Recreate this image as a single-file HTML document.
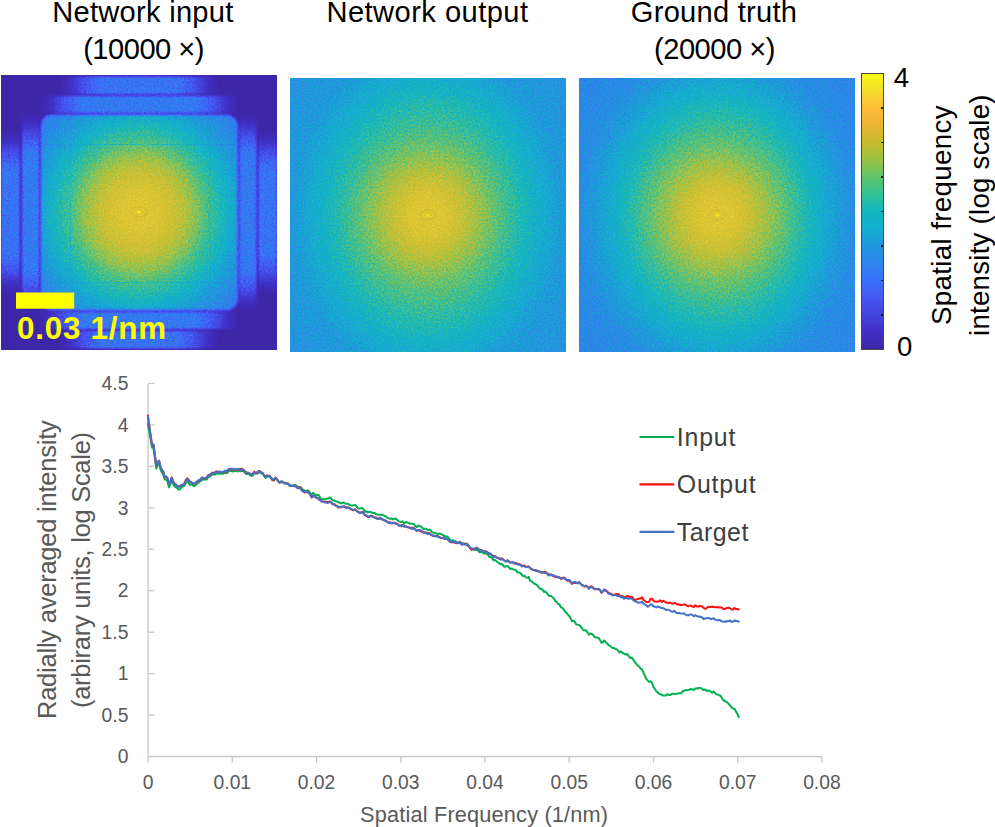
<!DOCTYPE html>
<html><head><meta charset="utf-8">
<style>
*{margin:0;padding:0;box-sizing:border-box}
html,body{width:995px;height:827px;overflow:hidden;background:#fff}
body{position:relative;font-family:"Liberation Sans",sans-serif}
.t{position:absolute;color:#000;font-size:29.1px;line-height:29.1px;white-space:nowrap;text-align:center;width:300px}
.img{position:absolute;overflow:hidden}
#im1{left:1px;top:74.5px;width:276px;height:275px}
#im2{left:290px;top:77.5px;width:275.5px;height:274px}
#im3{left:579px;top:77.5px;width:276px;height:274px}
#cb{position:absolute;left:861px;top:73px;width:22.5px;height:277px;border:1px solid #474747;
 background:linear-gradient(to top,#3e26a8 0%,#4130c4 6.25%,#4444e0 12.5%,#4458f2 18.75%,#3a70f8 25%,#2e84ec 31.25%,#2296dc 37.5%,#14aed0 43.75%,#10b8c0 50%,#36c196 56.25%,#5ec46a 62.5%,#98c244 68.75%,#c6bc2c 75%,#eab432 81.25%,#fcbc38 87.5%,#f2dc2a 93.75%,#f8f818 100%)}
.cbt{position:absolute;left:880.5px;width:2.5px;height:1.5px;background:#222}
.cbl{position:absolute;font-size:27.5px;line-height:27.5px;color:#000}
.rot{position:absolute;transform-origin:0 0;transform:rotate(-90deg);white-space:nowrap}
.yl{position:absolute;left:78.4px;width:50px;text-align:right;font-size:19.3px;line-height:19.3px;color:#595959}
.xl{position:absolute;width:80px;text-align:center;font-size:19.3px;line-height:19.3px;color:#595959}
#chart{position:absolute;left:0;top:0}
.nz{position:absolute;left:0;top:0;mix-blend-mode:overlay;opacity:0.22}
.leg{position:absolute;left:676.7px;font-size:24.9px;line-height:24.9px;color:#404040;white-space:nowrap}
</style></head><body>

<div class="t" style="left:-7.1px;top:-2.04px;letter-spacing:0.27px">Network input</div>
<div class="t" style="left:-6.4px;top:34.76px;letter-spacing:-0.5px">(10000 ×)</div>
<div class="t" style="left:277.5px;top:-2.04px;letter-spacing:0.45px">Network output</div>
<div class="t" style="left:564px;top:-2.04px;letter-spacing:0.25px">Ground truth</div>
<div class="t" style="left:564.5px;top:34.76px;letter-spacing:-0.5px">(20000 ×)</div>

<div class="img" id="im1">
<svg width="276" height="275" viewBox="0 0 276 275" style="position:absolute;left:0;top:0">
<defs>
<filter id="pm1" x="0" y="0" width="100%" height="100%" color-interpolation-filters="sRGB">
<feTurbulence type="fractalNoise" baseFrequency="0.55" numOctaves="2" seed="4" result="n0"/>
<feColorMatrix in="n0" type="matrix" values="1 0 0 0 0  1 0 0 0 0  1 0 0 0 0  0 0 0 0 1" result="n"/>
<feComponentTransfer in="SourceGraphic" result="mask"><feFuncR type="linear" slope="6" intercept="-0.15"/><feFuncG type="linear" slope="6" intercept="-0.15"/><feFuncB type="linear" slope="6" intercept="-0.15"/><feFuncA type="linear" slope="0" intercept="1"/></feComponentTransfer>
<feComposite in="mask" in2="n" operator="arithmetic" k1="0.26" k2="-0.13" k3="0" k4="0.5" result="p"/>
<feComposite in="SourceGraphic" in2="p" operator="arithmetic" k1="0" k2="1" k3="1" k4="-0.5" result="v"/>
<feComponentTransfer>
<feFuncR type="table" tableValues="0.2431 0.2549 0.2667 0.2667 0.2275 0.1804 0.1333 0.0863 0.0784 0.2196 0.3922 0.6118 0.7686 0.8471 0.8941 0.9412 0.9725"/>
<feFuncG type="table" tableValues="0.1490 0.1882 0.2667 0.3451 0.4392 0.5176 0.5882 0.6745 0.7137 0.7451 0.7608 0.7608 0.7529 0.7608 0.7843 0.8471 0.9725"/>
<feFuncB type="table" tableValues="0.6588 0.7686 0.8784 0.9490 0.9725 0.9255 0.8627 0.8157 0.7529 0.5961 0.4392 0.2902 0.2118 0.2039 0.1961 0.1647 0.0941"/>
<feFuncA type="linear" slope="0" intercept="1"/>
</feComponentTransfer>
<feGaussianBlur stdDeviation="0.5"/>
</filter>
<radialGradient id="g1" cx="138" cy="137" r="140" gradientUnits="userSpaceOnUse" gradientTransform="translate(138 137) scale(1 1.04) translate(-138 -137)">
<stop offset="0.0000" stop-color="#f7f7f7"/>
<stop offset="0.0179" stop-color="#dbdbdb"/>
<stop offset="0.1071" stop-color="#d6d6d6"/>
<stop offset="0.2357" stop-color="#c9c9c9"/>
<stop offset="0.3500" stop-color="#b5b5b5"/>
<stop offset="0.4286" stop-color="#a4a4a4"/>
<stop offset="0.4857" stop-color="#959595"/>
<stop offset="0.5857" stop-color="#828282"/>
<stop offset="0.7000" stop-color="#6a6a6a"/>
<stop offset="0.8214" stop-color="#585858"/>
<stop offset="1.0000" stop-color="#404040"/>
</radialGradient>
<linearGradient id="bho" x1="0" y1="0" x2="276" y2="0" gradientUnits="userSpaceOnUse">
<stop offset="0.210" stop-color="#424242" stop-opacity="0"/>
<stop offset="0.256" stop-color="#424242" stop-opacity="0.25"/>
<stop offset="0.301" stop-color="#424242" stop-opacity="0.65"/>
<stop offset="0.362" stop-color="#424242" stop-opacity="1"/>
<stop offset="0.638" stop-color="#424242" stop-opacity="1"/>
<stop offset="0.699" stop-color="#424242" stop-opacity="0.65"/>
<stop offset="0.744" stop-color="#424242" stop-opacity="0.25"/>
<stop offset="0.790" stop-color="#424242" stop-opacity="0"/>
</linearGradient>
<linearGradient id="bhi" x1="0" y1="0" x2="276" y2="0" gradientUnits="userSpaceOnUse">
<stop offset="0.138" stop-color="#474747" stop-opacity="0"/>
<stop offset="0.186" stop-color="#474747" stop-opacity="0.25"/>
<stop offset="0.233" stop-color="#474747" stop-opacity="0.65"/>
<stop offset="0.297" stop-color="#474747" stop-opacity="1"/>
<stop offset="0.703" stop-color="#474747" stop-opacity="1"/>
<stop offset="0.767" stop-color="#474747" stop-opacity="0.65"/>
<stop offset="0.814" stop-color="#474747" stop-opacity="0.25"/>
<stop offset="0.862" stop-color="#474747" stop-opacity="0"/>
</linearGradient>
<linearGradient id="bvo" x1="0" y1="0" x2="0" y2="275" gradientUnits="userSpaceOnUse">
<stop offset="0.200" stop-color="#424242" stop-opacity="0"/>
<stop offset="0.244" stop-color="#424242" stop-opacity="0.25"/>
<stop offset="0.287" stop-color="#424242" stop-opacity="0.65"/>
<stop offset="0.345" stop-color="#424242" stop-opacity="1"/>
<stop offset="0.655" stop-color="#424242" stop-opacity="1"/>
<stop offset="0.713" stop-color="#424242" stop-opacity="0.65"/>
<stop offset="0.756" stop-color="#424242" stop-opacity="0.25"/>
<stop offset="0.800" stop-color="#424242" stop-opacity="0"/>
</linearGradient>
<linearGradient id="bvi" x1="0" y1="0" x2="0" y2="275" gradientUnits="userSpaceOnUse">
<stop offset="0.138" stop-color="#474747" stop-opacity="0"/>
<stop offset="0.184" stop-color="#474747" stop-opacity="0.25"/>
<stop offset="0.230" stop-color="#474747" stop-opacity="0.65"/>
<stop offset="0.291" stop-color="#474747" stop-opacity="1"/>
<stop offset="0.709" stop-color="#474747" stop-opacity="1"/>
<stop offset="0.770" stop-color="#474747" stop-opacity="0.65"/>
<stop offset="0.816" stop-color="#474747" stop-opacity="0.25"/>
<stop offset="0.862" stop-color="#474747" stop-opacity="0"/>
</linearGradient>
<filter id="bl" x="-10%" y="-10%" width="120%" height="120%"><feGaussianBlur stdDeviation="1.1"/></filter>
<filter id="bl2" x="-10%" y="-10%" width="120%" height="120%"><feGaussianBlur stdDeviation="1.4"/></filter>
</defs>
<g filter="url(#pm1)">
<rect width="276" height="275" fill="#000"/>
<g filter="url(#bl)">
<rect x="0" y="1.5" width="276" height="17.5" fill="url(#bho)"/>
<rect x="0" y="20.8" width="276" height="17" fill="url(#bhi)"/>
<rect x="0" y="237" width="276" height="17" fill="url(#bhi)"/>
<rect x="0" y="256" width="276" height="17.5" fill="url(#bho)"/>
<rect x="0" y="0" width="18.8" height="275" fill="url(#bvo)"/>
<rect x="21" y="0" width="17" height="275" fill="url(#bvi)"/>
<rect x="238.5" y="0" width="17" height="275" fill="url(#bvi)"/>
<rect x="257.5" y="0" width="18.5" height="275" fill="url(#bvo)"/>
</g>
<rect x="39.8" y="39.8" width="197" height="195.5" rx="11" fill="url(#g1)" filter="url(#bl2)"/>
<g stroke="#000" stroke-width="0.9" opacity="0.11">
<line x1="69.5" y1="40" x2="69.5" y2="235"/>
<line x1="208.5" y1="40" x2="208.5" y2="235"/>
<line x1="40" y1="69.5" x2="236" y2="69.5"/>
<line x1="40" y1="207.5" x2="236" y2="207.5"/>
</g>
<ellipse cx="138" cy="137" rx="8" ry="5" fill="none" stroke="#000" stroke-width="2" opacity="0.07"/>
<circle cx="138" cy="137" r="1.3" fill="#f8f8f8"/>
</g>
<rect x="15" y="217.5" width="58.2" height="16.2" fill="#ffff00"/>
</svg>
<div style="position:absolute;left:16px;top:238.7px;font-size:31.4px;line-height:31.4px;letter-spacing:0.75px;font-weight:bold;color:#ffff00;white-space:nowrap">0.03 1/nm</div>
</div>

<div class="img" id="im2"><svg width="276" height="274" viewBox="0 0 276 274" style="position:absolute;left:0;top:0">
<defs>
<filter id="pm2" x="0" y="0" width="100%" height="100%" color-interpolation-filters="sRGB">
<feTurbulence type="fractalNoise" baseFrequency="0.55" numOctaves="2" seed="5" result="n0"/>
<feColorMatrix in="n0" type="matrix" values="1 0 0 0 0  1 0 0 0 0  1 0 0 0 0  0 0 0 0 1" result="n"/>
<feComposite in="SourceGraphic" in2="n" operator="arithmetic" k1="0" k2="1" k3="0.26" k4="-0.13" result="v"/>
<feComponentTransfer>
<feFuncR type="table" tableValues="0.2431 0.2549 0.2667 0.2667 0.2275 0.1804 0.1333 0.0863 0.0784 0.2196 0.3922 0.6118 0.7686 0.8471 0.8941 0.9412 0.9725"/>
<feFuncG type="table" tableValues="0.1490 0.1882 0.2667 0.3451 0.4392 0.5176 0.5882 0.6745 0.7137 0.7451 0.7608 0.7608 0.7529 0.7608 0.7843 0.8471 0.9725"/>
<feFuncB type="table" tableValues="0.6588 0.7686 0.8784 0.9490 0.9725 0.9255 0.8627 0.8157 0.7529 0.5961 0.4392 0.2902 0.2118 0.2039 0.1961 0.1647 0.0941"/>
<feFuncA type="linear" slope="0" intercept="1"/>
</feComponentTransfer>
<feGaussianBlur stdDeviation="0.5"/>
</filter>
<radialGradient id="gr2" cx="138" cy="137" r="200" gradientUnits="userSpaceOnUse" gradientTransform="translate(138 137) scale(1 1.05) translate(-138 -137)">
<stop offset="0.0000" stop-color="#f7f7f7"/>
<stop offset="0.0125" stop-color="#dbdbdb"/>
<stop offset="0.0750" stop-color="#d6d6d6"/>
<stop offset="0.1500" stop-color="#c8c8c8"/>
<stop offset="0.2250" stop-color="#b6b6b6"/>
<stop offset="0.3000" stop-color="#a6a6a6"/>
<stop offset="0.3900" stop-color="#939393"/>
<stop offset="0.4750" stop-color="#828282"/>
<stop offset="0.5500" stop-color="#757575"/>
<stop offset="0.6250" stop-color="#6a6a6a"/>
<stop offset="0.6900" stop-color="#626262"/>
<stop offset="0.8750" stop-color="#5d5d5d"/>
<stop offset="1.0000" stop-color="#575757"/>
</radialGradient>
<radialGradient id="gq2" cx="138" cy="137" r="200" gradientUnits="userSpaceOnUse" gradientTransform="translate(138 137) scale(1 1.22) translate(-138 -137)">
<stop offset="0.0000" stop-color="#f7f7f7"/>
<stop offset="0.0125" stop-color="#dbdbdb"/>
<stop offset="0.0750" stop-color="#d6d6d6"/>
<stop offset="0.1500" stop-color="#c8c8c8"/>
<stop offset="0.2250" stop-color="#b6b6b6"/>
<stop offset="0.3000" stop-color="#a6a6a6"/>
<stop offset="0.3900" stop-color="#939393"/>
<stop offset="0.4750" stop-color="#828282"/>
<stop offset="0.5500" stop-color="#757575"/>
<stop offset="0.6250" stop-color="#6a6a6a"/>
<stop offset="0.6900" stop-color="#626262"/>
<stop offset="0.8750" stop-color="#5d5d5d"/>
<stop offset="1.0000" stop-color="#575757"/>
</radialGradient>
<radialGradient id="mg2" cx="138" cy="137" r="140" gradientUnits="userSpaceOnUse"><stop offset="0.45" stop-color="#000"/><stop offset="0.8" stop-color="#fff"/></radialGradient>
<mask id="mk2" maskUnits="userSpaceOnUse" x="0" y="0" width="276" height="274"><rect width="276" height="274" fill="url(#mg2)"/></mask></defs>
<g filter="url(#pm2)"><rect width="276" height="274" fill="url(#gr2)"/><rect width="276" height="274" fill="url(#gq2)" mask="url(#mk2)"/><ellipse cx="138" cy="137" rx="8" ry="5" fill="none" stroke="#000" stroke-width="2" opacity="0.07"/><circle cx="138" cy="137" r="1.3" fill="#f8f8f8"/></g>
</svg></div>
<div class="img" id="im3"><svg width="276" height="274" viewBox="0 0 276 274" style="position:absolute;left:0;top:0">
<defs>
<filter id="pm3" x="0" y="0" width="100%" height="100%" color-interpolation-filters="sRGB">
<feTurbulence type="fractalNoise" baseFrequency="0.55" numOctaves="2" seed="9" result="n0"/>
<feColorMatrix in="n0" type="matrix" values="1 0 0 0 0  1 0 0 0 0  1 0 0 0 0  0 0 0 0 1" result="n"/>
<feComposite in="SourceGraphic" in2="n" operator="arithmetic" k1="0" k2="1" k3="0.26" k4="-0.13" result="v"/>
<feComponentTransfer>
<feFuncR type="table" tableValues="0.2431 0.2549 0.2667 0.2667 0.2275 0.1804 0.1333 0.0863 0.0784 0.2196 0.3922 0.6118 0.7686 0.8471 0.8941 0.9412 0.9725"/>
<feFuncG type="table" tableValues="0.1490 0.1882 0.2667 0.3451 0.4392 0.5176 0.5882 0.6745 0.7137 0.7451 0.7608 0.7608 0.7529 0.7608 0.7843 0.8471 0.9725"/>
<feFuncB type="table" tableValues="0.6588 0.7686 0.8784 0.9490 0.9725 0.9255 0.8627 0.8157 0.7529 0.5961 0.4392 0.2902 0.2118 0.2039 0.1961 0.1647 0.0941"/>
<feFuncA type="linear" slope="0" intercept="1"/>
</feComponentTransfer>
<feGaussianBlur stdDeviation="0.5"/>
</filter>
<radialGradient id="gr3" cx="138" cy="137" r="200" gradientUnits="userSpaceOnUse" gradientTransform="translate(138 137) scale(1 1.05) translate(-138 -137)">
<stop offset="0.0000" stop-color="#f7f7f7"/>
<stop offset="0.0125" stop-color="#dbdbdb"/>
<stop offset="0.0750" stop-color="#d6d6d6"/>
<stop offset="0.1500" stop-color="#c8c8c8"/>
<stop offset="0.2250" stop-color="#b6b6b6"/>
<stop offset="0.3000" stop-color="#a6a6a6"/>
<stop offset="0.3900" stop-color="#919191"/>
<stop offset="0.4750" stop-color="#7d7d7d"/>
<stop offset="0.5500" stop-color="#6e6e6e"/>
<stop offset="0.6250" stop-color="#616161"/>
<stop offset="0.6900" stop-color="#585858"/>
<stop offset="0.8750" stop-color="#525252"/>
<stop offset="1.0000" stop-color="#4c4c4c"/>
</radialGradient>
<radialGradient id="gq3" cx="138" cy="137" r="200" gradientUnits="userSpaceOnUse" gradientTransform="translate(138 137) scale(1 1.2) translate(-138 -137)">
<stop offset="0.0000" stop-color="#f7f7f7"/>
<stop offset="0.0125" stop-color="#dbdbdb"/>
<stop offset="0.0750" stop-color="#d6d6d6"/>
<stop offset="0.1500" stop-color="#c8c8c8"/>
<stop offset="0.2250" stop-color="#b6b6b6"/>
<stop offset="0.3000" stop-color="#a6a6a6"/>
<stop offset="0.3900" stop-color="#919191"/>
<stop offset="0.4750" stop-color="#7d7d7d"/>
<stop offset="0.5500" stop-color="#6e6e6e"/>
<stop offset="0.6250" stop-color="#616161"/>
<stop offset="0.6900" stop-color="#585858"/>
<stop offset="0.8750" stop-color="#525252"/>
<stop offset="1.0000" stop-color="#4c4c4c"/>
</radialGradient>
<radialGradient id="mg3" cx="138" cy="137" r="140" gradientUnits="userSpaceOnUse"><stop offset="0.45" stop-color="#000"/><stop offset="0.8" stop-color="#fff"/></radialGradient>
<mask id="mk3" maskUnits="userSpaceOnUse" x="0" y="0" width="276" height="274"><rect width="276" height="274" fill="url(#mg3)"/></mask></defs>
<g filter="url(#pm3)"><rect width="276" height="274" fill="url(#gr3)"/><rect width="276" height="274" fill="url(#gq3)" mask="url(#mk3)"/><ellipse cx="138" cy="137" rx="8" ry="5" fill="none" stroke="#000" stroke-width="2" opacity="0.07"/><circle cx="138" cy="137" r="1.3" fill="#f8f8f8"/></g>
</svg></div>

<div id="cb"></div>
<div class="cbt" style="top:107.25px"></div>
<div class="cbt" style="top:141.75px"></div>
<div class="cbt" style="top:176.25px"></div>
<div class="cbt" style="top:210.75px"></div>
<div class="cbt" style="top:245.25px"></div>
<div class="cbt" style="top:279.75px"></div>
<div class="cbt" style="top:314.25px"></div>
<div class="cbl" style="left:893.7px;top:63.8px">4</div>
<div class="cbl" style="left:896.9px;top:332.5px">0</div>
<div class="rot" style="left:928.25px;top:324.6px;font-size:27.7px;line-height:27.7px;color:#000;letter-spacing:0.35px">Spatial frequency</div>
<div class="rot" style="left:965.75px;top:335.5px;font-size:27.7px;line-height:27.7px;color:#000;letter-spacing:0.23px">intensity (log scale)</div>

<svg id="chart" width="995" height="827" viewBox="0 0 995 827">
<g stroke="#c6c6c6" stroke-width="1.3" fill="none">
<line x1="148.1" y1="383.5" x2="148.1" y2="762.8" />
<line x1="148.1" y1="756.5" x2="821.9" y2="756.5" />
<line x1="148.1" y1="715.06" x2="154.30" y2="715.06" />
<line x1="148.1" y1="673.61" x2="154.30" y2="673.61" />
<line x1="148.1" y1="632.17" x2="154.30" y2="632.17" />
<line x1="148.1" y1="590.72" x2="154.30" y2="590.72" />
<line x1="148.1" y1="549.28" x2="154.30" y2="549.28" />
<line x1="148.1" y1="507.83" x2="154.30" y2="507.83" />
<line x1="148.1" y1="466.39" x2="154.30" y2="466.39" />
<line x1="148.1" y1="424.94" x2="154.30" y2="424.94" />
<line x1="148.1" y1="383.50" x2="154.30" y2="383.50" />
<line x1="232.32" y1="756.5" x2="232.32" y2="762.8" />
<line x1="316.55" y1="756.5" x2="316.55" y2="762.8" />
<line x1="400.77" y1="756.5" x2="400.77" y2="762.8" />
<line x1="485.00" y1="756.5" x2="485.00" y2="762.8" />
<line x1="569.22" y1="756.5" x2="569.22" y2="762.8" />
<line x1="653.45" y1="756.5" x2="653.45" y2="762.8" />
<line x1="737.68" y1="756.5" x2="737.68" y2="762.8" />
<line x1="821.90" y1="756.5" x2="821.90" y2="762.8" />
</g>
<g fill="none" stroke-width="2" stroke-linejoin="round" stroke-linecap="round">
<path d="M147.9 424.0L149.3 432.1L150.7 439.9L152.1 447.7L153.5 447.6L154.9 458.0L156.3 468.6L157.7 464.6L159.1 463.2L160.5 469.4L161.9 472.5L163.3 474.7L164.7 479.6L166.1 479.4L167.5 481.2L168.9 487.4L170.3 484.4L171.7 480.4L173.1 483.6L174.5 486.7L175.9 487.3L177.3 488.3L178.7 489.7L180.1 489.1L181.5 487.0L182.9 486.6L184.3 485.6L185.7 483.2L187.1 481.5L188.5 482.6L189.9 484.9L191.3 484.1L192.7 485.1L194.1 486.3L195.5 485.1L196.9 483.8L198.3 482.9L199.7 481.8L201.1 480.6L202.5 479.7L203.9 479.4L205.3 479.6L206.7 479.4L208.1 477.1L209.5 476.7L210.9 475.6L212.3 474.4L213.7 474.6L215.1 474.5L216.5 473.3L217.9 473.8L219.3 473.5L220.7 473.8L222.1 473.4L223.5 473.7L224.9 472.0L226.3 473.3L227.7 472.4L229.1 470.3L230.5 471.0L231.9 471.1L233.3 471.6L234.7 470.7L236.1 470.9L237.5 471.6L238.9 470.7L240.3 471.2L241.7 471.1L243.1 470.9L244.5 472.1L245.9 474.0L247.3 474.0L248.7 474.0L250.1 475.4L251.5 475.9L252.9 475.5L254.3 473.0L255.7 473.3L257.1 473.7L258.5 472.5L259.9 472.4L261.3 473.4L262.7 473.2L264.1 475.6L265.5 478.0L266.9 476.5L268.3 476.3L269.7 476.7L271.1 478.4L272.5 480.3L273.9 480.5L275.3 478.3L276.7 479.1L278.1 481.2L279.5 483.0L280.9 481.4L282.3 481.8L283.7 482.8L285.1 482.8L286.5 483.6L287.9 483.6L289.3 485.3L290.7 485.5L292.1 485.6L293.5 485.6L294.9 484.9L296.3 485.6L297.7 486.8L299.1 487.2L300.5 487.2L301.9 488.7L303.3 489.9L304.7 490.9L306.1 491.0L307.5 490.3L308.9 491.1L310.3 493.4L311.7 494.9L313.1 492.9L314.5 494.1L315.9 495.7L317.3 494.7L318.7 495.2L320.1 497.6L321.5 499.5L322.9 499.1L324.3 499.1L325.7 499.6L327.1 498.4L328.5 498.2L329.9 497.5L331.3 498.6L332.7 500.1L334.1 500.5L335.5 501.2L336.9 501.4L338.3 502.2L339.7 502.6L341.1 503.5L342.5 502.8L343.9 502.6L345.3 503.8L346.7 503.7L348.1 503.8L349.5 504.9L350.9 505.3L352.3 505.6L353.7 505.2L355.1 504.9L356.5 506.1L357.9 508.2L359.3 508.6L360.7 508.3L362.1 508.1L363.5 509.1L364.9 512.0L366.3 511.2L367.7 512.4L369.1 511.8L370.5 511.9L371.9 512.7L373.3 512.9L374.7 513.1L376.1 514.1L377.5 514.7L378.9 514.7L380.3 514.7L381.7 514.8L383.1 515.1L384.5 516.0L385.9 516.5L387.3 517.6L388.7 518.4L390.1 518.8L391.5 518.6L392.9 519.5L394.3 518.7L395.7 518.6L397.1 519.8L398.5 521.2L399.9 521.6L401.3 522.0L402.7 521.4L404.1 523.6L405.5 522.4L406.9 522.1L408.3 523.0L409.7 523.7L411.1 523.4L412.5 523.9L413.9 524.1L415.3 526.1L416.7 527.3L418.1 525.4L419.5 526.0L420.9 526.4L422.3 527.9L423.7 529.0L425.1 528.6L426.5 529.0L427.9 530.2L429.3 529.6L430.7 529.9L432.1 532.2L433.5 532.6L434.9 533.1L436.3 533.2L437.7 534.3L439.1 533.6L440.5 533.8L441.9 534.7L443.3 535.0L444.7 536.7L446.1 536.2L447.5 536.6L448.9 538.3L450.3 540.6L451.7 540.6L453.1 540.3L454.5 541.4L455.9 541.6L457.3 542.6L458.7 542.5L460.1 542.2L461.5 543.2L462.9 543.4L464.3 543.4L465.7 544.0L467.1 543.6L468.5 545.2L469.9 547.8L471.3 549.2L472.7 549.3L474.1 549.6L475.5 549.9L476.9 549.7L478.3 550.9L479.7 552.4L481.1 551.8L482.5 552.5L483.9 553.5L485.3 553.2L486.7 553.9L488.1 554.9L489.5 557.1L490.9 557.1L492.3 558.5L493.7 560.3L495.1 559.9L496.5 561.2L497.9 562.3L499.3 563.4L500.7 564.2L502.1 564.0L503.5 566.1L504.9 566.9L506.3 566.2L507.7 566.0L509.1 567.7L510.5 568.9L511.9 568.6L513.3 569.4L514.7 569.9L516.1 570.4L517.5 572.4L518.9 572.4L520.3 572.9L521.7 574.7L523.1 575.9L524.5 575.7L525.9 577.4L527.3 577.8L528.7 576.9L530.1 580.8L531.5 581.4L532.9 582.5L534.3 583.7L535.7 584.4L537.1 585.2L538.5 587.0L539.9 588.7L541.3 588.8L542.7 590.1L544.1 591.9L545.5 591.6L546.9 593.1L548.3 595.3L549.7 596.0L551.1 595.9L552.5 597.4L553.9 598.5L555.3 601.2L556.7 602.0L558.1 603.8L559.5 604.5L560.9 607.3L562.3 607.9L563.7 609.3L565.1 611.8L566.5 613.0L567.9 614.6L569.3 616.0L570.7 618.5L572.1 621.2L573.5 620.8L574.9 622.1L576.3 624.4L577.7 624.8L579.1 624.9L580.5 626.3L581.9 628.0L583.3 630.0L584.7 630.6L586.1 630.3L587.5 632.3L588.9 634.7L590.3 633.5L591.7 633.9L593.1 634.9L594.5 636.8L595.9 637.6L597.3 637.6L598.7 638.0L600.1 640.2L601.5 642.8L602.9 642.2L604.3 640.5L605.7 642.2L607.1 643.3L608.5 645.2L609.9 645.8L611.3 647.0L612.7 648.0L614.1 648.0L615.5 649.0L616.9 649.4L618.3 650.8L619.7 652.5L621.1 651.5L622.5 652.9L623.9 653.7L625.3 654.5L626.7 654.1L628.1 655.1L629.5 657.1L630.9 658.1L632.3 658.1L633.7 660.6L635.1 662.4L636.5 664.1L637.9 665.8L639.3 666.8L640.7 668.9L642.1 669.3L643.5 672.7L644.9 675.6L646.3 678.8L647.7 680.4L649.1 681.9L650.5 681.3L651.9 682.8L653.3 686.7L654.7 688.8L656.1 691.1L657.5 692.2L658.9 693.7L660.3 694.3L661.7 694.7L663.1 695.6L664.5 695.5L665.9 695.6L667.3 694.1L668.7 694.9L670.1 695.1L671.5 694.0L672.9 693.8L674.3 693.8L675.7 694.0L677.1 693.8L678.5 693.3L679.9 693.2L681.3 693.2L682.7 691.2L684.1 690.8L685.5 690.1L686.9 690.3L688.3 690.1L689.7 689.4L691.1 689.0L692.5 689.4L693.9 690.1L695.3 688.4L696.7 688.4L698.1 688.1L699.5 688.3L700.9 687.9L702.3 689.3L703.7 690.0L705.1 689.4L706.5 690.8L707.9 690.5L709.3 690.7L710.7 691.5L712.1 692.7L713.5 691.4L714.9 693.1L716.3 694.3L717.7 694.6L719.1 695.2L720.5 695.7L721.9 698.0L723.3 700.3L724.7 700.8L726.1 701.9L727.5 702.5L728.9 704.3L730.3 705.8L731.7 707.3L733.1 708.7L734.5 708.7L735.9 711.3L737.3 713.7L738.7 717.0" stroke="#00b050"/>
<path d="M147.9 415.5L149.3 426.1L150.7 436.1L152.1 444.9L153.5 445.2L154.9 455.5L156.3 466.0L157.7 462.2L159.1 460.9L160.5 466.8L161.9 470.1L163.3 471.6L164.7 477.4L166.1 476.5L167.5 478.5L168.9 484.0L170.3 481.6L171.7 477.5L173.1 481.0L174.5 483.5L175.9 484.8L177.3 485.8L178.7 486.7L180.1 486.2L181.5 484.9L182.9 484.9L184.3 483.8L185.7 480.3L187.1 478.4L188.5 479.6L189.9 482.1L191.3 482.2L192.7 483.2L194.1 483.6L195.5 482.8L196.9 481.6L198.3 481.0L199.7 480.8L201.1 478.4L202.5 477.8L203.9 478.2L205.3 478.8L206.7 477.5L208.1 475.5L209.5 475.0L210.9 474.3L212.3 472.6L213.7 473.5L215.1 471.9L216.5 471.6L217.9 472.2L219.3 471.6L220.7 471.9L222.1 472.3L223.5 471.9L224.9 471.2L226.3 472.3L227.7 470.9L229.1 468.9L230.5 469.1L231.9 469.4L233.3 469.7L234.7 469.3L236.1 469.6L237.5 470.1L238.9 468.9L240.3 469.1L241.7 468.6L243.1 470.6L244.5 470.7L245.9 472.8L247.3 472.8L248.7 472.7L250.1 474.1L251.5 474.5L252.9 473.6L254.3 471.6L255.7 473.3L257.1 472.8L258.5 471.8L259.9 471.0L261.3 472.2L262.7 473.2L264.1 475.3L265.5 476.8L266.9 475.6L268.3 475.6L269.7 476.2L271.1 478.1L272.5 479.3L273.9 480.2L275.3 477.6L276.7 478.8L278.1 480.8L279.5 482.4L280.9 482.2L282.3 481.7L283.7 482.6L285.1 483.1L286.5 483.3L287.9 483.4L289.3 485.1L290.7 485.9L292.1 486.1L293.5 486.0L294.9 486.3L296.3 486.8L297.7 488.1L299.1 488.3L300.5 487.3L301.9 490.3L303.3 490.8L304.7 492.5L306.1 491.5L307.5 492.3L308.9 492.7L310.3 495.1L311.7 497.5L313.1 496.1L314.5 496.4L315.9 497.5L317.3 498.0L318.7 498.9L320.1 500.2L321.5 501.2L322.9 501.6L324.3 501.7L325.7 502.2L327.1 501.8L328.5 502.2L329.9 501.5L331.3 502.6L332.7 504.5L334.1 504.0L335.5 505.4L336.9 505.8L338.3 507.5L339.7 507.1L341.1 507.5L342.5 506.6L343.9 506.4L345.3 507.1L346.7 507.3L348.1 507.7L349.5 507.8L350.9 509.5L352.3 509.6L353.7 510.3L355.1 509.2L356.5 511.0L357.9 511.4L359.3 512.9L360.7 512.5L362.1 512.2L363.5 513.1L364.9 515.0L366.3 515.7L367.7 516.8L369.1 517.1L370.5 515.7L371.9 515.9L373.3 516.9L374.7 517.7L376.1 517.5L377.5 518.7L378.9 518.4L380.3 518.1L381.7 519.3L383.1 519.8L384.5 520.3L385.9 520.4L387.3 521.9L388.7 522.6L390.1 522.3L391.5 523.2L392.9 523.2L394.3 522.4L395.7 523.6L397.1 523.6L398.5 525.2L399.9 525.6L401.3 525.2L402.7 525.1L404.1 526.5L405.5 526.2L406.9 527.1L408.3 527.5L409.7 527.6L411.1 528.6L412.5 527.6L413.9 528.4L415.3 529.5L416.7 530.8L418.1 530.4L419.5 530.4L420.9 531.5L422.3 531.3L423.7 532.3L425.1 532.7L426.5 532.5L427.9 533.8L429.3 532.9L430.7 534.7L432.1 535.2L433.5 536.2L434.9 536.1L436.3 536.1L437.7 536.1L439.1 536.9L440.5 537.8L441.9 537.9L443.3 537.9L444.7 538.8L446.1 539.1L447.5 539.1L448.9 540.7L450.3 541.7L451.7 542.5L453.1 542.2L454.5 542.0L455.9 543.3L457.3 543.3L458.7 543.0L460.1 542.0L461.5 544.2L462.9 544.4L464.3 544.2L465.7 543.8L467.1 545.2L468.5 545.7L469.9 547.6L471.3 549.8L472.7 549.3L474.1 549.3L475.5 548.3L476.9 548.2L478.3 548.6L479.7 550.3L481.1 550.1L482.5 550.8L483.9 551.3L485.3 551.6L486.7 551.6L488.1 552.8L489.5 553.9L490.9 554.1L492.3 555.5L493.7 556.2L495.1 556.2L496.5 557.5L497.9 558.0L499.3 558.7L500.7 558.5L502.1 558.6L503.5 559.7L504.9 560.8L506.3 561.6L507.7 560.8L509.1 561.4L510.5 562.4L511.9 562.5L513.3 562.1L514.7 563.8L516.1 562.7L517.5 564.0L518.9 564.0L520.3 564.4L521.7 565.7L523.1 565.7L524.5 565.6L525.9 566.8L527.3 566.8L528.7 566.5L530.1 568.1L531.5 569.2L532.9 569.6L534.3 570.1L535.7 570.0L537.1 571.2L538.5 571.3L539.9 571.6L541.3 572.4L542.7 572.7L544.1 571.8L545.5 572.0L546.9 573.0L548.3 574.2L549.7 574.6L551.1 574.6L552.5 575.7L553.9 575.9L555.3 577.3L556.7 576.5L558.1 577.5L559.5 577.2L560.9 578.9L562.3 578.0L563.7 577.4L565.1 578.8L566.5 580.1L567.9 580.8L569.3 580.5L570.7 582.3L572.1 583.6L573.5 582.8L574.9 583.0L576.3 582.8L577.7 583.1L579.1 582.2L580.5 583.8L581.9 584.9L583.3 585.5L584.7 586.6L586.1 586.1L587.5 586.8L588.9 588.1L590.3 586.7L591.7 586.3L593.1 588.0L594.5 589.3L595.9 588.7L597.3 589.3L598.7 589.2L600.1 590.3L601.5 592.8L602.9 591.5L604.3 590.1L605.7 590.1L607.1 591.4L608.5 593.0L609.9 593.3L611.3 593.9L612.7 594.6L614.1 595.1L615.5 594.2L616.9 593.9L618.3 594.0L619.7 595.7L621.1 595.9L622.5 595.9L623.9 597.5L625.3 597.0L626.7 596.2L628.1 596.1L629.5 597.2L630.9 596.8L632.3 597.0L633.7 599.2L635.1 600.1L636.5 599.4L637.9 599.0L639.3 598.5L640.7 598.5L642.1 597.1L643.5 600.0L644.9 600.9L646.3 602.1L647.7 602.1L649.1 601.8L650.5 598.8L651.9 598.7L653.3 600.2L654.7 601.6L656.1 601.8L657.5 601.4L658.9 601.6L660.3 600.3L661.7 601.9L663.1 600.7L664.5 601.5L665.9 602.5L667.3 602.8L668.7 603.1L670.1 602.5L671.5 603.4L672.9 603.4L674.3 603.2L675.7 603.1L677.1 604.6L678.5 604.1L679.9 604.9L681.3 604.9L682.7 604.8L684.1 604.4L685.5 604.8L686.9 605.7L688.3 606.3L689.7 605.4L691.1 605.8L692.5 606.5L693.9 607.1L695.3 605.2L696.7 606.4L698.1 606.5L699.5 606.0L700.9 605.9L702.3 606.6L703.7 607.9L705.1 608.8L706.5 608.4L707.9 606.8L709.3 607.1L710.7 607.1L712.1 606.5L713.5 607.1L714.9 607.2L716.3 607.2L717.7 607.0L719.1 607.6L720.5 607.6L721.9 607.6L723.3 608.9L724.7 609.1L726.1 608.3L727.5 607.9L728.9 607.7L730.3 608.5L731.7 609.4L733.1 609.5L734.5 607.9L735.9 609.1L737.3 609.0L738.7 609.5" stroke="#ff1010"/>
<path d="M147.9 416.9L149.3 425.9L150.7 436.4L152.1 445.5L153.5 444.4L154.9 455.1L156.3 465.4L157.7 461.9L159.1 460.5L160.5 468.2L161.9 469.8L163.3 471.6L164.7 477.4L166.1 476.5L167.5 478.0L168.9 483.9L170.3 481.6L171.7 477.6L173.1 481.3L174.5 483.7L175.9 484.5L177.3 486.3L178.7 486.8L180.1 485.9L181.5 485.2L182.9 484.8L184.3 483.8L185.7 480.8L187.1 478.9L188.5 480.5L189.9 481.5L191.3 482.0L192.7 483.1L194.1 483.5L195.5 482.8L196.9 481.7L198.3 480.1L199.7 480.9L201.1 478.5L202.5 477.4L203.9 478.2L205.3 478.4L206.7 477.6L208.1 475.5L209.5 475.2L210.9 473.9L212.3 473.2L213.7 473.3L215.1 472.6L216.5 471.6L217.9 471.8L219.3 471.8L220.7 472.1L222.1 472.1L223.5 471.7L224.9 470.5L226.3 471.5L227.7 469.9L229.1 469.2L230.5 469.5L231.9 468.6L233.3 469.7L234.7 469.0L236.1 469.9L237.5 469.1L238.9 469.0L240.3 469.9L241.7 469.8L243.1 469.4L244.5 470.5L245.9 472.4L247.3 472.6L248.7 473.5L250.1 473.5L251.5 474.7L252.9 473.7L254.3 472.4L255.7 472.7L257.1 472.5L258.5 471.0L259.9 471.7L261.3 472.7L262.7 473.2L264.1 475.7L265.5 477.2L266.9 475.4L268.3 475.7L269.7 475.9L271.1 478.2L272.5 479.1L273.9 479.5L275.3 477.7L276.7 478.9L278.1 481.2L279.5 482.0L280.9 481.6L282.3 481.8L283.7 483.3L285.1 483.6L286.5 483.6L287.9 483.8L289.3 485.3L290.7 485.7L292.1 486.1L293.5 485.5L294.9 485.5L296.3 486.6L297.7 488.4L299.1 487.7L300.5 488.6L301.9 490.4L303.3 491.7L304.7 491.7L306.1 492.0L307.5 491.8L308.9 492.9L310.3 494.6L311.7 497.3L313.1 496.2L314.5 495.9L315.9 497.4L317.3 497.8L318.7 498.9L320.1 500.2L321.5 501.6L322.9 501.7L324.3 502.2L325.7 502.4L327.1 502.9L328.5 502.6L329.9 502.0L331.3 501.9L332.7 504.0L334.1 504.0L335.5 505.7L336.9 506.2L338.3 506.7L339.7 506.9L341.1 507.4L342.5 506.6L343.9 506.3L345.3 507.2L346.7 508.3L348.1 507.5L349.5 508.2L350.9 508.9L352.3 509.4L353.7 509.8L355.1 509.6L356.5 510.7L357.9 512.0L359.3 512.8L360.7 512.9L362.1 511.8L363.5 513.0L364.9 515.2L366.3 515.3L367.7 516.4L369.1 516.6L370.5 515.6L371.9 516.7L373.3 517.1L374.7 517.7L376.1 518.5L377.5 518.7L378.9 519.1L380.3 517.5L381.7 519.3L383.1 519.4L384.5 520.3L385.9 521.0L387.3 522.1L388.7 522.8L390.1 522.6L391.5 523.4L392.9 522.9L394.3 523.1L395.7 523.8L397.1 523.8L398.5 525.6L399.9 525.7L401.3 526.4L402.7 525.4L404.1 526.4L405.5 526.4L406.9 526.8L408.3 527.0L409.7 527.8L411.1 528.4L412.5 528.9L413.9 528.1L415.3 529.6L416.7 530.6L418.1 530.3L419.5 530.0L420.9 530.4L422.3 531.2L423.7 533.1L425.1 532.2L426.5 533.4L427.9 534.2L429.3 533.2L430.7 534.5L432.1 535.4L433.5 535.2L434.9 536.3L436.3 536.1L437.7 537.0L439.1 537.0L440.5 537.8L441.9 537.9L443.3 537.6L444.7 539.0L446.1 538.6L447.5 538.9L448.9 540.6L450.3 542.0L451.7 542.0L453.1 541.4L454.5 542.4L455.9 541.8L457.3 542.9L458.7 542.8L460.1 543.1L461.5 544.5L462.9 543.6L464.3 544.5L465.7 544.4L467.1 544.4L468.5 546.1L469.9 547.6L471.3 548.2L472.7 548.4L474.1 549.0L475.5 548.5L476.9 547.5L478.3 549.6L479.7 550.5L481.1 550.0L482.5 551.0L483.9 551.8L485.3 551.2L486.7 552.1L488.1 552.9L489.5 553.2L490.9 554.1L492.3 555.9L493.7 557.6L495.1 556.3L496.5 557.3L497.9 558.2L499.3 558.5L500.7 559.7L502.1 558.6L503.5 560.2L504.9 561.3L506.3 561.2L507.7 560.1L509.1 562.3L510.5 562.6L511.9 562.5L513.3 562.3L514.7 563.4L516.1 563.4L517.5 564.5L518.9 564.6L520.3 564.9L521.7 566.4L523.1 566.3L524.5 566.2L525.9 567.2L527.3 566.9L528.7 566.7L530.1 568.0L531.5 569.0L532.9 569.6L534.3 570.1L535.7 570.9L537.1 570.6L538.5 571.1L539.9 572.0L541.3 572.5L542.7 571.8L544.1 572.9L545.5 572.7L546.9 572.9L548.3 575.4L549.7 575.2L551.1 574.7L552.5 575.6L553.9 575.2L555.3 576.2L556.7 577.2L558.1 576.8L559.5 577.9L560.9 578.7L562.3 578.7L563.7 578.0L565.1 578.3L566.5 579.6L567.9 580.3L569.3 579.9L570.7 581.7L572.1 584.0L573.5 582.0L574.9 581.9L576.3 582.7L577.7 583.4L579.1 582.3L580.5 583.6L581.9 585.3L583.3 585.6L584.7 586.1L586.1 585.5L587.5 587.0L588.9 588.9L590.3 587.3L591.7 587.1L593.1 587.7L594.5 588.7L595.9 589.3L597.3 589.3L598.7 588.8L600.1 590.1L601.5 592.4L602.9 591.3L604.3 589.4L605.7 591.1L607.1 591.7L608.5 593.8L609.9 593.8L611.3 594.6L612.7 595.4L614.1 595.3L615.5 594.8L616.9 595.7L618.3 595.9L619.7 596.1L621.1 597.4L622.5 597.0L623.9 598.8L625.3 598.1L626.7 597.8L628.1 598.7L629.5 598.2L630.9 598.6L632.3 598.9L633.7 600.7L635.1 601.4L636.5 601.6L637.9 602.8L639.3 602.5L640.7 602.6L642.1 601.7L643.5 603.7L644.9 604.4L646.3 605.5L647.7 606.8L649.1 606.0L650.5 604.6L651.9 604.3L653.3 606.4L654.7 606.6L656.1 607.4L657.5 606.5L658.9 607.0L660.3 607.6L661.7 607.9L663.1 608.3L664.5 608.8L665.9 609.9L667.3 609.8L668.7 609.8L670.1 610.8L671.5 611.4L672.9 611.7L674.3 610.8L675.7 612.3L677.1 613.2L678.5 612.9L679.9 613.3L681.3 613.4L682.7 613.4L684.1 613.2L685.5 614.6L686.9 615.1L688.3 615.4L689.7 614.5L691.1 614.6L692.5 615.0L693.9 616.4L695.3 615.2L696.7 616.0L698.1 616.6L699.5 616.7L700.9 616.8L702.3 617.5L703.7 619.2L705.1 618.5L706.5 618.3L707.9 618.0L709.3 618.1L710.7 619.3L712.1 618.8L713.5 618.2L714.9 619.5L716.3 619.9L717.7 620.4L719.1 620.1L720.5 620.4L721.9 621.4L723.3 621.9L724.7 621.5L726.1 621.9L727.5 620.9L728.9 621.3L730.3 620.3L731.7 622.0L733.1 621.6L734.5 620.3L735.9 621.0L737.3 621.0L738.7 621.7" stroke="#4472c4"/>
</g>
<g stroke-width="2.2">
<line x1="639.5" y1="437" x2="674.3" y2="437" stroke="#00b050"/>
<line x1="639.5" y1="484.4" x2="674.3" y2="484.4" stroke="#ff1010"/>
<line x1="639.5" y1="531.8" x2="674.3" y2="531.8" stroke="#4472c4"/>
</g>
</svg>

<div class="yl" style="top:747.26px">0</div>
<div class="yl" style="top:705.81px">0.5</div>
<div class="yl" style="top:664.37px">1</div>
<div class="yl" style="top:622.93px">1.5</div>
<div class="yl" style="top:581.48px">2</div>
<div class="yl" style="top:540.04px">2.5</div>
<div class="yl" style="top:498.59px">3</div>
<div class="yl" style="top:457.15px">3.5</div>
<div class="yl" style="top:415.70px">4</div>
<div class="yl" style="top:374.26px">4.5</div>
<div class="xl" style="left:108.10px;top:773.46px">0</div>
<div class="xl" style="left:192.32px;top:773.46px">0.01</div>
<div class="xl" style="left:276.55px;top:773.46px">0.02</div>
<div class="xl" style="left:360.77px;top:773.46px">0.03</div>
<div class="xl" style="left:445.00px;top:773.46px">0.04</div>
<div class="xl" style="left:529.22px;top:773.46px">0.05</div>
<div class="xl" style="left:613.45px;top:773.46px">0.06</div>
<div class="xl" style="left:697.68px;top:773.46px">0.07</div>
<div class="xl" style="left:781.90px;top:773.46px">0.08</div>
<div class="leg" style="top:424.7px;letter-spacing:0.85px">Input</div>
<div class="leg" style="top:472.1px;letter-spacing:0.85px">Output</div>
<div class="leg" style="top:519.5px;letter-spacing:0.5px">Target</div>

<div class="rot" style="left:34.9px;top:719px;font-size:25.4px;line-height:25.4px;color:#595959;letter-spacing:-0.18px">Radially averaged intensity</div>
<div class="rot" style="left:68.7px;top:707.8px;font-size:25.4px;line-height:25.4px;color:#595959;letter-spacing:-0.24px">(arbirary units, log Scale)</div>
<div style="position:absolute;left:360px;top:804.0px;font-size:21.7px;line-height:21.7px;color:#595959;white-space:nowrap;letter-spacing:0.2px">Spatial Frequency (1/nm)</div>

</body></html>
